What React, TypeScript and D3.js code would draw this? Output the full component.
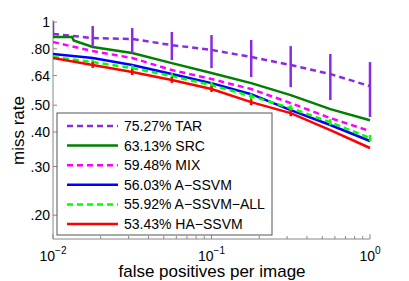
import React from "react";
import { scaleLog, line } from "d3";

const W = 409;
const H = 281;
const M = { top: 22, right: 39, bottom: 42, left: 53 };

// fppi sample points (every quarter decade)
const FPPI = [0.01, 0.0178, 0.0316, 0.0562, 0.1, 0.178, 0.316, 0.562, 1];

const TAR = [0.905, 0.875, 0.868, 0.825, 0.792, 0.747, 0.699, 0.648, 0.586];
const TAR_LO = [0.89, 0.812, 0.772, 0.728, 0.681, 0.632, 0.581, 0.522, 0.453];
const TAR_HI = [1.0, 0.967, 0.951, 0.92, 0.897, 0.861, 0.818, 0.766, 0.716];

const SRC_FPPI = [0.01, 0.0132, 0.0135, 0.0178, 0.0316, 0.0562, 0.1, 0.178, 0.316, 0.562, 1];
const SRC = [0.882, 0.882, 0.858, 0.812, 0.772, 0.71, 0.654, 0.601, 0.544, 0.484, 0.441];

const MIX = [0.846, 0.785, 0.741, 0.67, 0.622, 0.572, 0.509, 0.449, 0.403];
const ASSVM = [0.766, 0.741, 0.699, 0.648, 0.601, 0.548, 0.48, 0.424, 0.371];

const ALL = [0.747, 0.716, 0.681, 0.637, 0.591, 0.539, 0.488, 0.434, 0.38];
const ALL_ERR_IDX = [1, 2, 3, 4, 5, 6, 7, 8];
const ALL_LO = [0.698, 0.664, 0.621, 0.576, 0.526, 0.476, 0.423, 0.371];
const ALL_HI = [0.734, 0.698, 0.653, 0.606, 0.552, 0.5, 0.445, 0.39];

const HA = [0.741, 0.699, 0.659, 0.617, 0.572, 0.513, 0.468, 0.406, 0.35];
const HA_ERR_IDX = [1, 2, 3, 4, 5, 6];
const HA_LO = [0.682, 0.643, 0.602, 0.558, 0.5, 0.456];
const HA_HI = [0.716, 0.675, 0.632, 0.586, 0.526, 0.48];

const Y_TICKS = [0.2, 0.3, 0.4, 0.5, 0.64, 0.8, 1];
const Y_LABELS = [".20", ".30", ".40", ".50", ".64", ".80", "1"];
const X_MAJOR = [0.01, 0.1, 1];
const X_EXP = ["\u22122", "\u22121", "0"];

type Series = {
  label: string;
  color: string;
  dash?: string;
  xs: number[];
  ys: number[];
};

const SERIES: Series[] = [
  { label: "75.27% TAR", color: "#8a2be2", dash: "6 4", xs: FPPI, ys: TAR },
  { label: "63.13% SRC", color: "#008000", xs: SRC_FPPI, ys: SRC },
  { label: "59.48% MIX", color: "#ff00ff", dash: "6 4", xs: FPPI, ys: MIX },
  { label: "56.03% A\u2212SSVM", color: "#0000ff", xs: FPPI, ys: ASSVM },
  { label: "55.92% A\u2212SSVM\u2212ALL", color: "#00ff00", dash: "6 4", xs: FPPI, ys: ALL },
  { label: "53.43% HA\u2212SSVM", color: "#ff0000", xs: FPPI, ys: HA },
];

export default function App() {
  const x = scaleLog().domain([0.01, 1]).range([M.left, W - M.right]);
  const y = scaleLog().domain([0.164, 1]).range([H - M.bottom, M.top]);
  const mk = (xs: number[]) =>
    line<number>()
      .x((_, i) => x(xs[i]))
      .y((d) => y(d));

  const minor: number[] = [];
  for (const dec of [0.01, 0.1]) for (let k = 2; k <= 9; k++) minor.push(dec * k);

  const font = "'Liberation Sans', Arial, Helvetica, sans-serif";
  const bottom = H - M.bottom;

  const errBars = (
    idx: number[],
    lo: number[],
    hi: number[],
    color: string,
    key: string
  ) =>
    idx.map((i, j) => (
      <line
        key={key + i}
        x1={x(FPPI[i])}
        x2={x(FPPI[i])}
        y1={y(lo[j])}
        y2={y(hi[j])}
        stroke={color}
        strokeWidth={2.5}
      />
    ));

  const legX = 57;
  const legY = 113;
  const legW = 215;
  const legH = 122;
  const rowH = 19.6;

  return (
    <svg
      width={W}
      height={H}
      style={{ position: "absolute", left: 0, top: 0, background: "#fff" }}
      fontFamily={font}
    >
      <defs>
        <clipPath id="plot">
          <rect x={M.left} y={M.top - 1} width={W - M.left - M.right + 2} height={bottom - M.top + 1} />
        </clipPath>
      </defs>

      {/* axes */}
      <line x1={M.left} x2={M.left} y1={M.top - 2} y2={bottom} stroke="#888" strokeWidth={1} />
      <line x1={M.left} x2={W - M.right} y1={bottom} y2={bottom} stroke="#888" strokeWidth={1} />
      {Y_TICKS.map((t, i) => (
        <g key={"y" + t}>
          <line x1={M.left} x2={M.left + 4} y1={y(t)} y2={y(t)} stroke="#888" />
          <text x={50} y={y(t) + 5} fontSize={14} textAnchor="end" fill="#000">
            {Y_LABELS[i]}
          </text>
        </g>
      ))}
      {minor.map((t) => (
        <line key={"m" + t} x1={x(t)} x2={x(t)} y1={bottom} y2={bottom - 3} stroke="#888" />
      ))}
      {X_MAJOR.map((t, i) => (
        <g key={"x" + t}>
          <line x1={x(t)} x2={x(t)} y1={bottom} y2={bottom - 5} stroke="#888" />
          <text x={x(t)} y={260.5} fontSize={14} textAnchor="middle" fill="#000">
            10
            <tspan dy={-7} fontSize={10}>
              {X_EXP[i]}
            </tspan>
          </text>
        </g>
      ))}

      <text x={212} y={277} fontSize={17} textAnchor="middle" fill="#000">
        false positives per image
      </text>
      <text
        transform={`translate(24, ${(M.top + bottom) / 2}) rotate(-90)`}
        fontSize={17}
        textAnchor="middle"
        fill="#000"
      >
        miss rate
      </text>

      {/* curves */}
      <g clipPath="url(#plot)">
        {SERIES.map((s) => (
          <path
            key={s.label}
            d={mk(s.xs)(s.ys) || ""}
            fill="none"
            stroke={s.color}
            strokeWidth={2.5}
            strokeDasharray={s.dash}
          />
        ))}
        {errBars(FPPI.map((_, i) => i), TAR_LO, TAR_HI, "#8a2be2", "tar")}
        {errBars(ALL_ERR_IDX, ALL_LO, ALL_HI, "#00ff00", "all")}
        {errBars(HA_ERR_IDX, HA_LO, HA_HI, "#ff0000", "ha")}
      </g>

      {/* legend */}
      <rect x={legX} y={legY} width={legW} height={legH} fill="#fff" stroke="#555" strokeWidth={1} />
      {SERIES.map((s, i) => {
        const cy = legY + 13 + i * rowH;
        return (
          <g key={"l" + s.label}>
            <line
              x1={67}
              x2={118}
              y1={cy}
              y2={cy}
              stroke={s.color}
              strokeWidth={2.5}
              strokeDasharray={s.dash}
            />
            <text x={124} y={cy + 5} fontSize={14} fill="#000">
              {s.label}
            </text>
          </g>
        );
      })}
    </svg>
  );
}
